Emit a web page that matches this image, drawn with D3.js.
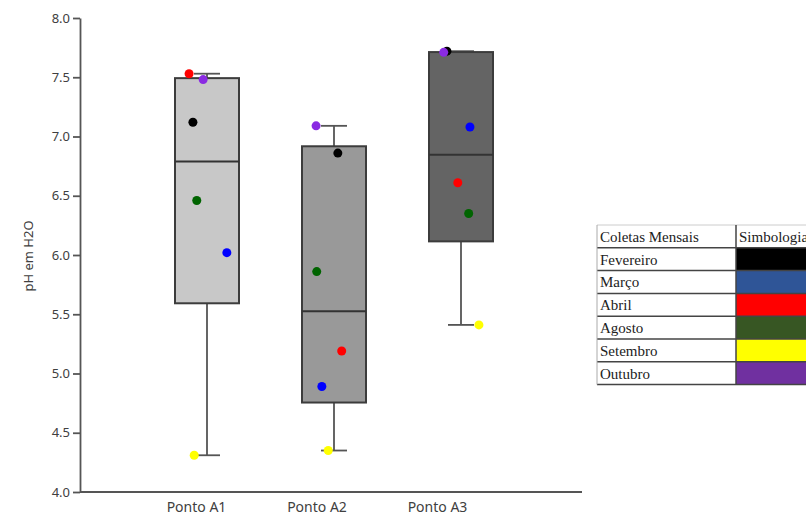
<!DOCTYPE html>
<html>
<head>
<meta charset="utf-8">
<script src="https://cdn.jsdelivr.net/npm/d3@7"></script>
<style>
    body { margin: 0; background: #fff; }
    .axis text { font-family: 'Noto Sans', sans-serif; font-size: 13px; fill: #404040; }
    .axis path, .axis line { stroke: #555; stroke-width: 1.8; }
    .legend text { font-family: 'Liberation Serif', 'DejaVu Serif', serif; font-size: 15px; fill: #222; }
</style>
</head>
<body>
<svg id="chart"></svg>
<script>
const categories = ['Ponto A1', 'Ponto A2', 'Ponto A3']
const months = ['Fevereiro', 'Março', 'Abril', 'Agosto', 'Setembro', 'Outubro']

// pH per month (same order as months)
const valuesA1 = [7.12, 6.02, 7.53, 6.46, 4.31, 7.48]
const valuesA2 = [6.86, 4.89, 5.19, 5.86, 4.35, 7.09]
const valuesA3 = [7.72, 7.08, 6.61, 6.35, 5.41, 7.71]

const yTicks = [4.0, 4.5, 5.0, 5.5, 6.0, 6.5, 7.0, 7.5, 8.0]
const yTitle = 'pH em H2O'
const legendHeader = ['Coletas Mensais', 'Simbologia']

const pointColors = ['#000000', '#0000ff', '#ff0000', '#006400', '#ffff00', '#8a2be2']
const legendColors = ['#000000', '#2f5597', '#ff0000', '#375623', '#ffff00', '#7030a0']
const boxFills = ['#c8c8c8', '#999999', '#646464']

// horizontal scatter of the dots, as a fraction of the box width
const jitter = [
    [-0.22, 0.31, -0.28, -0.16, -0.2, -0.06],
    [0.06, -0.19, 0.12, -0.27, -0.09, -0.28],
    [-0.22, 0.14, -0.05, 0.12, 0.28, -0.27],
]

const series = [valuesA1, valuesA2, valuesA3]

const width = 806
const height = 517
const boxWidth = 64

// exclusive quartile, like the spreadsheet that made the original
function quartileExc(values, p) {
    const s = [...values].sort(d3.ascending)
    const pos = (s.length + 1) * p
    const i = Math.floor(pos)
    const f = pos - i
    if (i < 1) return s[0]
    if (i >= s.length) return s[s.length - 1]
    return s[i - 1] + f * (s[i] - s[i - 1])
}

const stats = series.map(v => ({
    min: d3.min(v),
    max: d3.max(v),
    q1: quartileExc(v, 0.25),
    median: d3.median(v),
    q3: quartileExc(v, 0.75),
}))

const svg = d3.select('#chart')
    .attr('width', width)
    .attr('height', height)

const y = d3.scaleLinear().domain([4, 8]).range([492, 18])
const x = d3.scalePoint().domain(categories).range([207, 461])
const xLabel = d3.scalePoint().domain(categories).range([196, 437])

// boxes
const boxes = svg.append('g')
    .selectAll('g')
    .data(stats)
    .join('g')
    .attr('transform', (d, i) => `translate(${x(categories[i])},0)`)

boxes.append('line')
    .attr('x1', 0).attr('x2', 0)
    .attr('y1', d => y(d.min))
    .attr('y2', d => y(d.max))
    .attr('stroke', '#555')
    .attr('stroke-width', 1.8)

boxes.selectAll('.cap')
    .data(d => [d.min, d.max])
    .join('line')
    .attr('class', 'cap')
    .attr('x1', -13).attr('x2', 13)
    .attr('y1', d => y(d)).attr('y2', d => y(d))
    .attr('stroke', '#555')
    .attr('stroke-width', 1.8)

boxes.append('rect')
    .attr('x', -boxWidth / 2)
    .attr('width', boxWidth)
    .attr('y', d => y(d.q3))
    .attr('height', d => y(d.q1) - y(d.q3))
    .attr('fill', (d, i) => boxFills[i])
    .attr('stroke', '#3c3c3c')
    .attr('stroke-width', 2)

boxes.append('line')
    .attr('x1', -boxWidth / 2).attr('x2', boxWidth / 2)
    .attr('y1', d => y(d.median))
    .attr('y2', d => y(d.median))
    .attr('stroke', '#333')
    .attr('stroke-width', 2)

// dots
series.forEach((values, ci) => {
    svg.append('g')
        .selectAll('circle')
        .data(values)
        .join('circle')
        .attr('cx', (d, i) => x(categories[ci]) + jitter[ci][i] * boxWidth)
        .attr('cy', d => y(d))
        .attr('r', 4.5)
        .attr('fill', (d, i) => pointColors[i])
})

// axes
svg.append('g')
    .attr('class', 'axis')
    .attr('transform', 'translate(80,0)')
    .call(d3.axisLeft(y).tickValues(yTicks).tickFormat(d3.format('.1f')).tickSize(7).tickSizeOuter(0))

svg.append('line')
    .attr('x1', 80).attr('x2', 582)
    .attr('y1', 492).attr('y2', 492)
    .attr('stroke', '#555')
    .attr('stroke-width', 1.8)

const xAxis = svg.append('g')
    .attr('class', 'axis')
    .attr('transform', 'translate(0,499)')
    .call(d3.axisBottom(xLabel).tickSize(0))
xAxis.select('.domain').remove()
xAxis.selectAll('text').style('font-size', '14px')

svg.append('text')
    .attr('transform', 'translate(33,256) rotate(-90)')
    .attr('text-anchor', 'middle')
    .style('font-family', "'Noto Sans', sans-serif")
    .style('font-size', '13px')
    .attr('fill', '#404040')
    .text(yTitle)

// legend table
const tableX = 597
const colX = 736
const tableTop = 225
const rowH = 22.8
const legend = svg.append('g').attr('class', 'legend')

const rows = [legendHeader, ...months.map(m => [m, null])]
rows.forEach((r, i) => {
    const top = tableTop + i * rowH
    if (i > 0) {
        legend.append('rect')
            .attr('x', colX)
            .attr('y', top)
            .attr('width', width - colX)
            .attr('height', rowH)
            .attr('fill', legendColors[i - 1])
    }
    legend.append('text')
        .attr('x', tableX + 3)
        .attr('y', top + rowH - 6)
        .text(r[0])
    if (r[1]) {
        legend.append('text')
            .attr('x', colX + 3)
            .attr('y', top + rowH - 6)
            .text(r[1])
    }
})

d3.range(rows.length + 1).forEach(i => {
    legend.append('line')
        .attr('x1', tableX).attr('x2', width)
        .attr('y1', tableTop + i * rowH).attr('y2', tableTop + i * rowH)
        .attr('stroke', i === 0 ? '#ccc' : '#444')
        .attr('stroke-width', i === 0 ? 1 : 1.5)
})

legend.append('line')
    .attr('x1', colX).attr('x2', colX)
    .attr('y1', tableTop).attr('y2', tableTop + rows.length * rowH)
    .attr('stroke', '#444')
    .attr('stroke-width', 1.5)

legend.append('line')
    .attr('x1', tableX).attr('x2', tableX)
    .attr('y1', tableTop).attr('y2', tableTop + rows.length * rowH)
    .attr('stroke', '#aaa')
    .attr('stroke-width', 1)
</script>
</body>
</html>
